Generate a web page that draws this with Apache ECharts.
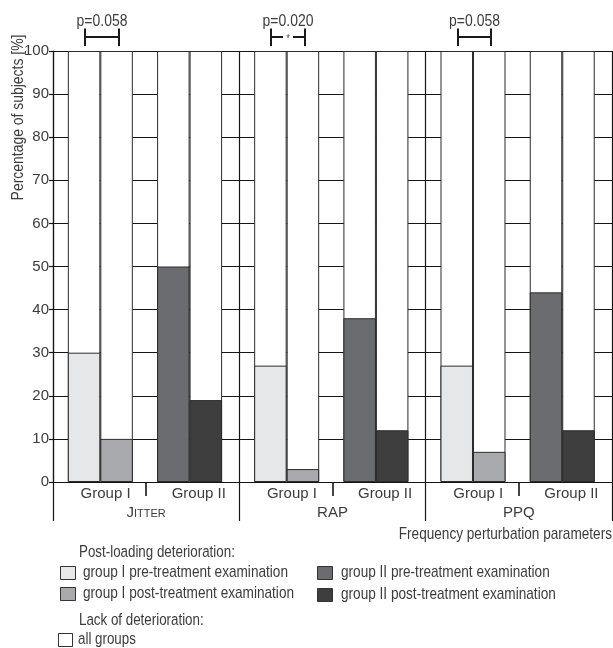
<!DOCTYPE html>
<html><head><meta charset="utf-8">
<script src="https://cdn.jsdelivr.net/npm/echarts@6/dist/echarts.min.js"></script>
<style>html,body{margin:0;padding:0;background:#fff}#c{width:613px;height:648px}</style>
</head><body><div id="c"></div>
<script>
// ---------------- DATA ----------------
const parameters = ['Jitter', 'RAP', 'PPQ'];
const groupLabels = ['Group I', 'Group II'];
const group1Pre = [30, 27, 27];
const group1Post = [10, 3, 7];
const group2Pre = [50, 38, 44];
const group2Post = [19, 12, 12];
const pValues = ['p=0.058', 'p=0.020', 'p=0.058'];
const significant = [false, true, false];
const yMin = 0, yMax = 100, yStep = 10;
const seriesNames = ['group I pre-treatment examination', 'group I post-treatment examination',
  'group II pre-treatment examination', 'group II post-treatment examination'];
const lackName = 'all groups';
const legendHeadings = ['Post-loading deterioration:', 'Lack of deterioration:'];
const yAxisTitle = 'Percentage of subjects [%]';
const xAxisTitle = 'Frequency perturbation parameters';

// ---------------- LAYOUT / STYLE ----------------
const FONT = "'Liberation Sans Narrow','Liberation Sans',Arial,sans-serif";
const NARROW = 0.82; // horizontal squeeze to imitate a condensed face
const LINE = '#151515';
const BORDER = '#2b2b2b';
const TEXT = '#3c3c3c';
const COLORS = ['#e6e7e9', '#a9aaad', '#6b6c70', '#3e3e3f'];
const BAR_OFFSETS = [0.1668, 0.3412, 0.6458, 0.8202];
const BAR_W = 32.5;
const valuesBySeries = [group1Pre, group1Post, group2Pre, group2Post];

const chart = echarts.init(document.getElementById('c'), null, {renderer: 'canvas'});

const series = [];
const bgData = [];
parameters.forEach((p, s) => BAR_OFFSETS.forEach(o => bgData.push([s + o, yMax])));
series.push({
  name: lackName, type: 'bar', barWidth: BAR_W, barGap: '-100%', data: bgData,
  itemStyle: {color: '#ffffff', borderColor: BORDER, borderWidth: 1}, silent: true
});
valuesBySeries.forEach((vals, k) => {
  series.push({
    name: seriesNames[k], type: 'bar', barWidth: BAR_W, barGap: '-100%',
    data: vals.map((v, s) => [s + BAR_OFFSETS[k], v]),
    itemStyle: {color: COLORS[k], borderColor: BORDER, borderWidth: 1}
  });
});

const groupCats = [];
parameters.forEach(() => groupLabels.forEach(g => groupCats.push(g)));

const option = {
  animation: false,
  backgroundColor: '#ffffff',
  grid: {left: 53, top: 51, width: 559, height: 431, containLabel: false},
  xAxis: [
    {type: 'value', min: 0, max: parameters.length, interval: 1, position: 'bottom',
      axisLine: {show: true, onZero: false, lineStyle: {color: LINE, width: 1.2}},
      axisTick: {show: true, length: 39, lineStyle: {color: LINE, width: 1.2}},
      minorTick: {show: true, splitNumber: 2, length: 14, lineStyle: {color: LINE, width: 1.6}},
      axisLabel: {show: false},
      splitLine: {show: true, lineStyle: {color: LINE, width: 1.2}}},
    {type: 'category', data: groupCats, position: 'bottom',
      axisLine: {show: false}, axisTick: {show: false}, splitLine: {show: false},
      axisLabel: {margin: 4, fontSize: 15, color: TEXT, fontFamily: FONT, padding: [0, 0, 0, 12], interval: 0}},
    {type: 'category', data: parameters, position: 'bottom',
      axisLine: {show: false}, axisTick: {show: false}, splitLine: {show: false},
      axisLabel: {margin: 22, interval: 0, color: TEXT, fontFamily: FONT,
        formatter: v => v === 'Jitter' ? '{cap|J}{sc|ITTER}' : '{cap|' + v + '}',
        rich: {
          cap: {fontSize: 15, fontFamily: FONT, color: TEXT, verticalAlign: 'bottom', lineHeight: 16},
          sc: {fontSize: 11, fontFamily: FONT, color: TEXT, verticalAlign: 'bottom', lineHeight: 16, padding: [0, 0, 1, 0]}
        }}}
  ],
  yAxis: {type: 'value', min: yMin, max: yMax, interval: yStep,
    axisLine: {show: true, lineStyle: {color: LINE, width: 1.2}},
    axisTick: {show: true, length: 4, lineStyle: {color: LINE, width: 1.2}},
    axisLabel: {margin: 4, fontSize: 15, color: TEXT, fontFamily: FONT},
    splitLine: {show: true, lineStyle: {color: LINE, width: 1.2}}},
  series: series
};
chart.setOption(option);

// ---------------- ANNOTATIONS / LEGEND ----------------
const g = [];
function txt(x, y, text, size, align, vAlign, extra) {
  return Object.assign({type: 'text', x: x, y: y, silent: true, scaleX: NARROW,
    style: {text: text, fontSize: size, fontFamily: FONT, fill: TEXT,
      align: align, verticalAlign: vAlign, textAlign: align, textVerticalAlign: vAlign}}, extra || {});
}
function line(x1, y1, x2, y2, w) {
  return {type: 'line', silent: true, shape: {x1, y1, x2, y2}, style: {stroke: '#1a1a1a', lineWidth: w}};
}
const yTopPx = chart.convertToPixel({yAxisIndex: 0}, yMax);
const bracketY = Math.round(yTopPx - 14.5);
parameters.forEach((p, s) => {
  const x1 = Math.round(chart.convertToPixel({xAxisIndex: 0}, s + BAR_OFFSETS[0])) + 1;
  const x2 = Math.round(chart.convertToPixel({xAxisIndex: 0}, s + BAR_OFFSETS[1])) + 2;
  const cx = (x1 + x2) / 2;
  g.push(line(x1, bracketY - 8.5, x1, bracketY + 9, 2));
  g.push(line(x2, bracketY - 8.5, x2, bracketY + 9, 2));
  if (significant[s]) {
    g.push(line(x1, bracketY, cx - 5, bracketY, 2));
    g.push(line(cx + 5, bracketY, x2, bracketY, 2));
    g.push(txt(cx, bracketY + 2, '*', 10, 'center', 'middle'));
  } else {
    g.push(line(x1, bracketY, x2, bracketY, 2));
  }
  g.push(txt(cx, bracketY - 16, pValues[s], 17, 'center', 'middle'));
});
g.push(txt(18, 117.5, yAxisTitle, 17, 'center', 'middle', {rotation: Math.PI / 2}));
g.push(txt(612, 534, xAxisTitle, 16.6, 'right', 'middle'));

// legend
g.push(txt(79, 553, legendHeadings[0], 16.3, 'left', 'middle'));
const legPos = [[60, 566, 83, 572.5], [60, 587, 83, 593.5], [317, 566, 341, 572.5], [317, 588, 341, 594]];
seriesNames.forEach((n, k) => {
  const p = legPos[k];
  g.push({type: 'rect', silent: true, shape: {x: p[0] + 0.5, y: p[1] + 0.5, width: 15, height: 13},
    style: {fill: COLORS[k], stroke: '#333', lineWidth: 1}});
  g.push(txt(p[2], p[3], n, 16.6, 'left', 'middle'));
});
g.push(txt(79, 621, legendHeadings[1], 16.3, 'left', 'middle'));
g.push({type: 'rect', silent: true, shape: {x: 58.5, y: 633.5, width: 14, height: 13},
  style: {fill: '#ffffff', stroke: '#333', lineWidth: 1}});
g.push(txt(78, 639.5, lackName, 16.3, 'left', 'middle'));

chart.setOption({graphic: {elements: g}});
</script>
</body></html>
